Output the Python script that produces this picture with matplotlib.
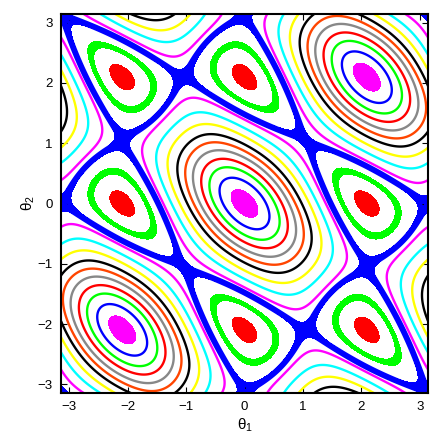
import numpy as np
import matplotlib
matplotlib.use('Agg')
import matplotlib.pyplot as plt

plt.rcParams['font.family'] = ['Liberation Sans', 'DejaVu Sans']
plt.rcParams['mathtext.fontset'] = 'custom'
plt.rcParams['mathtext.rm'] = 'Liberation Sans'
plt.rcParams['mathtext.it'] = 'Liberation Sans'

# energy levels of the orbits round the centres (inner to outer)
ring_levels = [2.339, 2.099, 1.847, 1.543, 1.222, 0.869, 0.418, -0.081, -0.573]
ring_colors = ['#0000ff', '#00ff00', '#ff0000', '#888888', '#ff4500',
               '#000000', '#ffff00', '#00ffff', '#ff00ff']
centre_max = 2.51            # magenta islands (above this)
centre_min = -1.83           # red islands (below this)
saddle = -0.86               # energy of the separatrix (blue)
saddle_blob = [-0.94, -0.82]
green_band = [-1.49, -1.33]  # green orbit inside the triangles
harmonic = -0.14             # weight of the second harmonic
ticks = [-3, -2, -1, 0, 1, 2, 3]


def energy(t1, t2):
    base = np.cos(t1 - t2) + np.cos(2 * t1 + t2) + np.cos(t1 + 2 * t2)
    second = np.cos(3 * t1) + np.cos(3 * t2) + np.cos(3 * t1 + 3 * t2)
    return base + harmonic * second


th = np.linspace(-np.pi, np.pi, 1000)
T1, T2 = np.meshgrid(th, th)
H = energy(T1, T2)

fig = plt.figure(figsize=(4.47, 4.46), dpi=100)
ax = fig.add_axes([0.1365, 0.1188, 0.8210, 0.8498])

ax.contourf(T1, T2, H, levels=[centre_max, 10], colors=['#ff00ff'])
ax.contourf(T1, T2, H, levels=[-10, centre_min], colors=['#ff0000'])
ax.contourf(T1, T2, H, levels=saddle_blob, colors=['#0000ff'])
ax.contour(T1, T2, H, levels=[saddle], colors=['#0000ff'], linewidths=4.2,
           linestyles='solid')
ax.contourf(T1, T2, H, levels=green_band, colors=['#00ff00'])
for lev, col in zip(ring_levels, ring_colors):
    ax.contour(T1, T2, H, levels=[lev], colors=[col], linewidths=1.7,
               linestyles='solid')

ax.set_xlim(-np.pi, np.pi)
ax.set_ylim(-np.pi, np.pi)
ax.set_xticks(ticks)
ax.set_yticks(ticks)
ax.tick_params(direction='in', top=True, right=True, length=4, labelsize=9.5, pad=6)
for s in ax.spines.values():
    s.set_linewidth(1.5)
ax.set_xlabel(r'$\theta_1$', fontsize=11, labelpad=2)
ax.set_ylabel(r'$\theta_2$', fontsize=11, labelpad=0)

fig.savefig('out.png', dpi=100)
